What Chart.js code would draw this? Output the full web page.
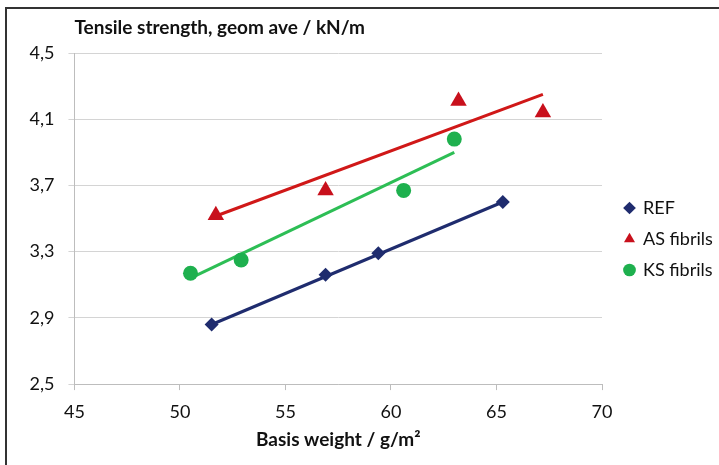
<!DOCTYPE html>
<html lang="en">
<head>
    <meta charset="UTF-8">
    <title>Tensile strength vs basis weight</title>
    <style>
        html, body {
            margin: 0;
            padding: 0;
            width: 719px;
            height: 465px;
            overflow: hidden;
            background: #fff;
        }
        #frame {
            position: absolute;
            left: 5px;
            top: 7px;
            width: 800px;
            height: 600px;
            border: 2px solid #333;
        }
        #chart-container {
            position: absolute;
            left: 0;
            top: 0;
            width: 719px;
            height: 465px;
        }
    </style>
</head>
<body>
    <div id="frame"></div>
    <div id="chart-container">
        <canvas id="tensile-chart" width="719" height="465"></canvas>
    </div>

    <script src="https://cdn.jsdelivr.net/npm/chart.js"></script>
    <script>
        // measured points
        const refX = [51.5, 56.9, 59.4, 65.3];
        const refY = [2.86, 3.16, 3.29, 3.60];
        const asX = [51.7, 56.9, 63.2, 67.2];
        const asY = [3.52, 3.67, 4.21, 4.14];
        const ksX = [50.5, 52.9, 60.6, 63.0];
        const ksY = [3.17, 3.25, 3.67, 3.98];

        // trend line end points
        const refTrendX = [51.5, 65.3];
        const refTrendY = [2.86, 3.60];
        const asTrendX = [51.8, 67.2];
        const asTrendY = [3.52, 4.25];
        const ksTrendX = [50.5, 63.0];
        const ksTrendY = [3.14, 3.90];

        const seriesNames = ['REF', 'AS fibrils', 'KS fibrils'];
        const xTicks = [45, 50, 55, 60, 65, 70];
        const yTicks = [2.5, 2.9, 3.3, 3.7, 4.1, 4.5];

        const navy = '#1F2C6E';
        const red = '#C8101C';
        const green = '#1EB04E';

        function toPoints(xs, ys) {
            return xs.map((x, i) => ({ x: x, y: ys[i] }));
        }

        const fontFamily = 'Lato, "Liberation Sans", sans-serif';

        const ctx = document.getElementById('tensile-chart').getContext('2d');
        const chart = new Chart(ctx, {
            type: 'scatter',
            data: {
                datasets: [
                    {
                        label: seriesNames[0],
                        data: toPoints(refX, refY),
                        pointStyle: 'rectRot',
                        pointRadius: 7,
                        pointBackgroundColor: navy,
                        pointBorderWidth: 0,
                        borderColor: navy,
                        backgroundColor: navy,
                        order: 0
                    },
                    {
                        label: seriesNames[1],
                        data: toPoints(asX, asY),
                        pointStyle: 'triangle',
                        pointRadius: 9.5,
                        pointBackgroundColor: red,
                        pointBorderWidth: 0,
                        borderColor: red,
                        backgroundColor: red,
                        order: 0
                    },
                    {
                        label: seriesNames[2],
                        data: toPoints(ksX, ksY),
                        pointStyle: 'circle',
                        pointRadius: 7.5,
                        pointBackgroundColor: green,
                        pointBorderWidth: 0,
                        borderColor: green,
                        backgroundColor: green,
                        order: 0
                    },
                    {
                        label: 'REF trend',
                        data: toPoints(refTrendX, refTrendY),
                        showLine: true,
                        pointRadius: 0,
                        borderColor: navy,
                        borderWidth: 3,
                        order: 1
                    },
                    {
                        label: 'AS trend',
                        data: toPoints(asTrendX, asTrendY),
                        showLine: true,
                        pointRadius: 0,
                        borderColor: '#D01818',
                        borderWidth: 3,
                        order: 1
                    },
                    {
                        label: 'KS trend',
                        data: toPoints(ksTrendX, ksTrendY),
                        showLine: true,
                        pointRadius: 0,
                        borderColor: '#2DBE55',
                        borderWidth: 3,
                        order: 1
                    }
                ]
            },
            options: {
                responsive: false,
                animation: false,
                layout: {
                    padding: { left: 15.5, top: 16, right: 2, bottom: 3 }
                },
                plugins: {
                    tooltip: { enabled: false },
                    title: {
                        display: true,
                        text: 'Tensile strength, geom ave / kN/m',
                        align: 'start',
                        fullSize: false,
                        color: '#111',
                        font: { family: fontFamily, size: 19, weight: 'bold', lineHeight: 1.2 },
                        padding: { top: 0, bottom: 14.2 }
                    },
                    legend: {
                        position: 'right',
                        align: 'center',
                        maxWidth: 105,
                        labels: {
                            usePointStyle: true,
                            boxWidth: 9,
                            boxHeight: 9,
                            padding: 13,
                            color: '#111',
                            font: { family: fontFamily, size: 18 },
                            filter: item => item.datasetIndex < 3
                        }
                    }
                },
                scales: {
                    x: {
                        type: 'linear',
                        min: xTicks[0],
                        max: xTicks[xTicks.length - 1],
                        afterBuildTicks: scale => {
                            scale.ticks = xTicks.map(v => ({ value: v }));
                        },
                        grid: {
                            display: true,
                            drawOnChartArea: false,
                            tickLength: 6,
                            color: '#BDBDBD'
                        },
                        border: { display: true, color: '#BDBDBD', width: 1 },
                        ticks: {
                            padding: 12.7,
                            color: '#111',
                            font: { family: fontFamily, size: 18, lineHeight: 1 }
                        },
                        title: {
                            display: true,
                            text: 'Basis weight / g/m²',
                            color: '#111',
                            font: { family: fontFamily, size: 19, weight: 'bold', lineHeight: 1 },
                            padding: { top: -3, bottom: 12.5 }
                        }
                    },
                    y: {
                        type: 'linear',
                        min: yTicks[0],
                        max: yTicks[yTicks.length - 1],
                        afterBuildTicks: scale => {
                            scale.ticks = yTicks.map(v => ({ value: v }));
                        },
                        grid: {
                            color: '#D4D4D4',
                            tickLength: 6
                        },
                        border: { display: true, color: '#BDBDBD', width: 1 },
                        ticks: {
                            padding: 14,
                            color: '#111',
                            font: { family: fontFamily, size: 18 },
                            callback: value => value.toFixed(1).replace('.', ',')
                        }
                    },
                    // empty axis, only keeps a gap between plot and legend
                    gap: {
                        type: 'linear',
                        position: 'right',
                        display: true,
                        grid: { display: false },
                        border: { display: false },
                        ticks: { display: false },
                        afterFit: scale => { scale.width = 10; }
                    }
                }
            }
        });
    </script>
</body>
</html>
